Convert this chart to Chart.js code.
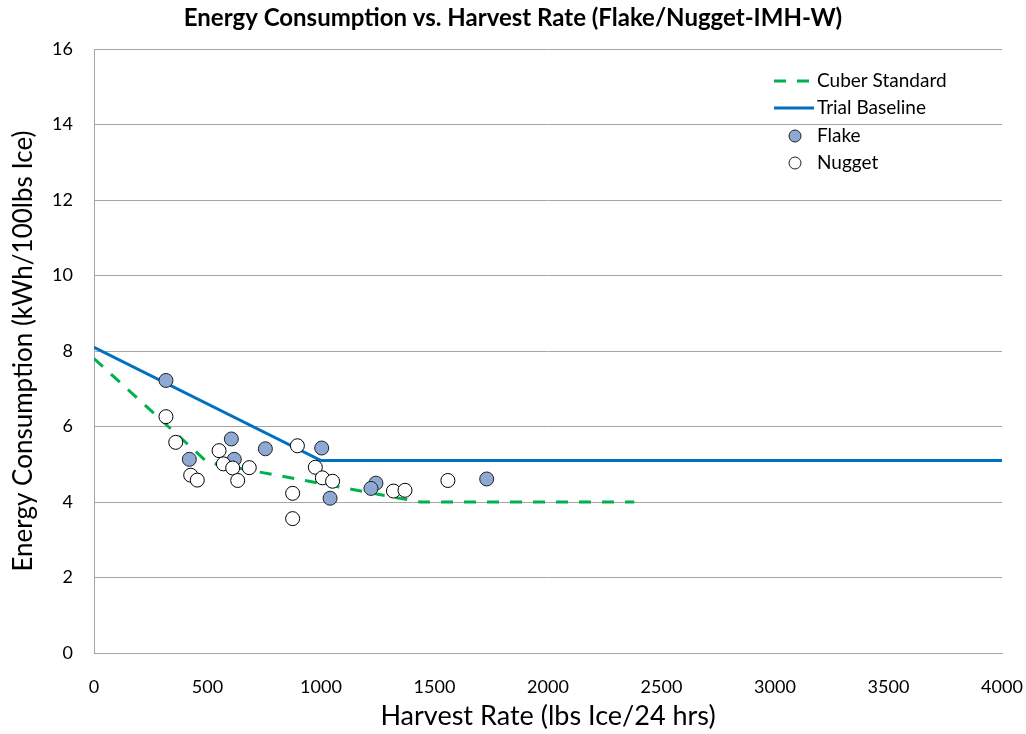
<!DOCTYPE html>
<html>
<head>
<meta charset="utf-8">
<script src="https://cdn.jsdelivr.net/npm/chart.js@4"></script>
<style>
  html, body { margin: 0; padding: 0; background: #fff; }
  #wrap { width: 1026px; height: 734px; }
</style>
</head>
<body>
<div id="wrap"><canvas id="Chart" width="1026" height="734"></canvas></div>
<script>
// x = harvest rate (lbs ice / 24 hrs), y = kWh / 100 lbs ice
var cuberX = [0, 500, 1436, 2380];
var cuberY = [7.8, 5.05, 4.0, 4.0];

var trialX = [0, 1000, 4000];
var trialY = [8.1, 5.1, 5.1];

var flakeX = [317, 605, 420, 618, 755, 1003, 1040, 1242, 1220, 1730];
var flakeY = [7.22, 5.67, 5.13, 5.13, 5.41, 5.43, 4.10, 4.50, 4.36, 4.61];

var nuggetX = [317, 360, 426, 455, 551, 570, 611, 633, 684, 896, 875, 875, 975, 1006, 1051, 1319, 1370, 1559];
var nuggetY = [6.26, 5.58, 4.71, 4.58, 5.36, 5.01, 4.90, 4.57, 4.91, 5.49, 4.23, 3.56, 4.92, 4.64, 4.55, 4.29, 4.31, 4.57];

var xTicks = [0, 500, 1000, 1500, 2000, 2500, 3000, 3500, 4000];
var yTicks = [0, 2, 4, 6, 8, 10, 12, 14, 16];

function pts(xs, ys) {
  return xs.map(function (x, i) { return { x: x, y: ys[i] }; });
}

var FONT = "Lato, 'Open Sans', sans-serif";
var GREEN = "#00B050";
var BLUE = "#0070C0";
var FLAKE_FILL = "#8EA9D3";
var GRID = "#A6A6A6";

// legend drawn inside the plot area, top right
var legendPlugin = {
  id: "insideLegend",
  afterDraw: function (chart) {
    var ctx = chart.ctx;
    var x0 = 774, tx = 817;
    var rows = [81, 108, 136, 163];
    ctx.save();
    ctx.font = "19px " + FONT;
    ctx.fillStyle = "#000";
    ctx.textBaseline = "middle";
    ctx.textAlign = "left";

    ctx.strokeStyle = GREEN; ctx.lineWidth = 3; ctx.setLineDash([12, 11]);
    ctx.beginPath(); ctx.moveTo(x0, rows[0]); ctx.lineTo(x0 + 40, rows[0]); ctx.stroke();
    ctx.setLineDash([]);
    ctx.strokeStyle = BLUE;
    ctx.beginPath(); ctx.moveTo(x0, rows[1]); ctx.lineTo(x0 + 40, rows[1]); ctx.stroke();

    ctx.lineWidth = 1; ctx.strokeStyle = "#222";
    ctx.fillStyle = FLAKE_FILL;
    ctx.beginPath(); ctx.arc(795, rows[2], 6, 0, Math.PI * 2); ctx.fill(); ctx.stroke();
    ctx.fillStyle = "#fff";
    ctx.beginPath(); ctx.arc(795, rows[3], 6, 0, Math.PI * 2); ctx.fill(); ctx.stroke();

    ctx.fillStyle = "#000";
    ctx.fillText("Cuber Standard", tx, rows[0]);
    ctx.fillText("Trial Baseline", tx, rows[1]);
    ctx.fillText("Flake", tx, rows[2]);
    ctx.fillText("Nugget", tx, rows[3]);
    ctx.restore();
  }
};

var ctx = document.getElementById("Chart");
var myChart = new Chart(ctx, {
  type: "scatter",
  data: {
    datasets: [
      {
        label: "Cuber Standard",
        data: pts(cuberX, cuberY),
        showLine: true,
        borderColor: GREEN,
        borderWidth: 3,
        borderDash: [12, 11],
        pointRadius: 0,
        fill: false,
        order: 3
      },
      {
        label: "Trial Baseline",
        data: pts(trialX, trialY),
        showLine: true,
        borderColor: BLUE,
        borderWidth: 3,
        pointRadius: 0,
        fill: false,
        order: 2
      },
      {
        label: "Flake",
        data: pts(flakeX, flakeY),
        backgroundColor: FLAKE_FILL,
        borderColor: "#222",
        borderWidth: 1,
        pointRadius: 7,
        order: 1
      },
      {
        label: "Nugget",
        data: pts(nuggetX, nuggetY),
        backgroundColor: "#fff",
        borderColor: "#000",
        borderWidth: 1,
        pointRadius: 7,
        order: 0
      }
    ]
  },
  options: {
    responsive: false,
    animation: false,
    layout: { padding: { top: 49, right: 24, left: 0, bottom: 0 } },
    plugins: {
      legend: { display: false },
      tooltip: { enabled: false },
      title: { display: false }
    },
    scales: {
      x: {
        type: "linear",
        min: 0, max: 4000,
        afterBuildTicks: function (s) { s.ticks = xTicks.map(function (v) { return { value: v }; }); },
        afterFit: function (s) { s.height = 81; },
        // invisible tick marks give the label offset without widening the side padding
        grid: { display: true, drawOnChartArea: false, drawTicks: true, tickLength: 23, color: "rgba(0,0,0,0)" },
        border: { display: true, color: GRID, width: 1 },
        ticks: {
          color: "#000", font: { family: FONT, size: 18 }, padding: 0, maxRotation: 0,
          callback: function (v) { return String(v); }
        },
        title: { display: true, text: "Harvest Rate (lbs Ice/24 hrs)", color: "#000", font: { family: FONT, size: 27 }, padding: 2 }
      },
      y: {
        type: "linear",
        min: 0, max: 16,
        afterBuildTicks: function (s) { s.ticks = yTicks.map(function (v) { return { value: v }; }); },
        afterFit: function (s) { s.width = 94; },
        grid: { color: GRID, lineWidth: 1, drawTicks: false },
        border: { display: true, color: GRID, width: 1 },
        ticks: { color: "#000", font: { family: FONT, size: 18 }, padding: 21 },
        title: { display: true, text: "Energy Consumption (kWh/100lbs Ice)", color: "#000", font: { family: FONT, size: 26 }, padding: 8 }
      }
    }
  },
  plugins: [legendPlugin, {
    id: "topTitle",
    afterDraw: function (chart) {
      var c = chart.ctx;
      c.save();
      c.font = "bold 24px " + FONT;
      c.fillStyle = "#000";
      c.textAlign = "center";
      c.textBaseline = "middle";
      c.fillText("Energy Consumption vs. Harvest Rate (Flake/Nugget-IMH-W)", 513, 18);
      c.restore();
    }
  }]
});
</script>
</body>
</html>
